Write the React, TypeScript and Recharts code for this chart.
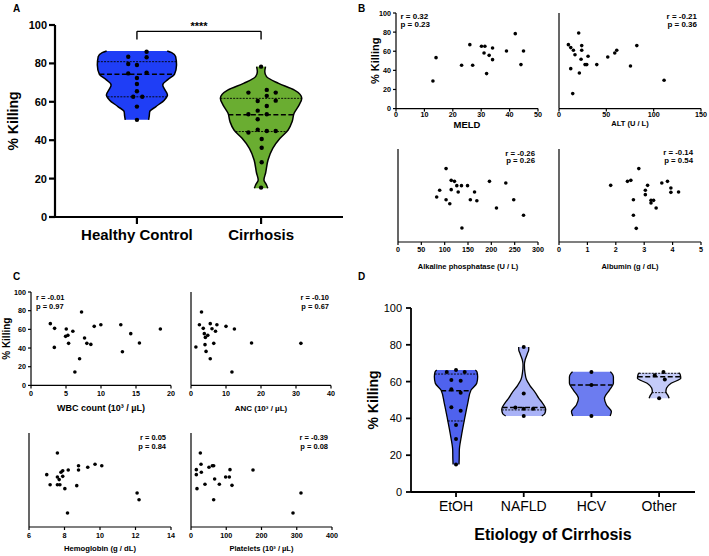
import React from 'react';
import { ComposedChart, ScatterChart, Area, Scatter, XAxis, YAxis, ReferenceLine, ReferenceArea } from 'recharts';

const FONT = '"Liberation Sans", Arial, Helvetica, sans-serif';

// ---------- Panel A: healthy vs cirrhosis ----------
const groupNames = ['Healthy Control', 'Cirrhosis'];
const groupColors = ['#1f3ef6', '#6aad31'];
// violin outline: [% killing, half width in group units]
const healthyOutline = [
  [50.6, 0.094], [52.5, 0.099], [54.9, 0.103], [57.5, 0.153], [61, 0.222], [63.6, 0.246],
  [66.2, 0.226], [68.8, 0.208], [71.4, 0.246], [74.3, 0.302], [79.2, 0.319], [83.5, 0.312],
  [85.6, 0.28], [86.5, 0.244],
];
const cirrhosisOutline = [
  [15, 0.054], [16.7, 0.044], [19.3, 0.023], [22.8, 0.036], [29.7, 0.056], [35.8, 0.094],
  [41, 0.153], [45.3, 0.218], [49.6, 0.25], [54, 0.266], [58.3, 0.306], [61.8, 0.328],
  [66.2, 0.266], [69.6, 0.141], [73.1, 0.044], [75.7, 0.03], [78.3, 0.036],
];
const healthyKilling = [86.1, 83.5, 83.2, 79.7, 79.2, 74.8, 75.2, 72.4, 69.3, 65.5, 62.6, 62.6, 57.5, 50.6];
const healthyJitter = [0.078, -0.07, 0.078, -0.07, 0, -0.07, 0.078, 0, 0, 0, -0.03, 0.043, 0, 0];
const cirrhosisKilling = [78.3, 64.8, 66.2, 64.8, 63.1, 60.4, 60.6, 57.8, 55.4, 53.5, 53.5, 50.9, 45.5, 44, 44.8, 44.8, 40.6, 36.1, 28.5, 15.3];
const cirrhosisJitter = [0, -0.102, 0.046, 0.118, 0.046, -0.027, 0.118, 0.046, -0.027, -0.102, 0.046, -0.027, -0.027, -0.102, 0.046, 0.118, 0.005, 0.005, 0.005, 0];
// [lower quartile, median, upper quartile]
const healthyQuartiles = [62.6, 74.3, 80.9];
const cirrhosisQuartiles = [44.5, 53.3, 61.8];

// ---------- Panel D: etiology ----------
const etiologyNames = ['EtOH', 'NAFLD', 'HCV', 'Other'];
const etiologyColors = ['#4f62ee', '#a9b2f7', '#6c7cf0', '#c4cbf8'];
const etohOutline = [
  [15, 0.044], [18, 0.047], [22.8, 0.049], [30.1, 0.078], [40.9, 0.133], [48.2, 0.173],
  [55.4, 0.222], [59.1, 0.306], [62.7, 0.32], [65.2, 0.31], [66.3, 0.285],
];
const nafldOutline = [
  [41.3, 0.266], [42.5, 0.31], [45, 0.325], [48.2, 0.28], [51, 0.222], [53.9, 0.173],
  [58, 0.089], [61.1, 0.04], [65, 0.018], [69, 0.01], [72, 0.022], [75, 0.052], [77.5, 0.074], [78.8, 0.074],
];
const hcvOutline = [
  [41.3, 0.276], [43.7, 0.295], [47.3, 0.222], [50.9, 0.192], [55.4, 0.266], [59.1, 0.325],
  [62.5, 0.325], [64.6, 0.3], [65.4, 0.28],
];
const otherOutline = [
  [50.9, 0.148], [52.5, 0.13], [54.5, 0.1], [56.5, 0.11], [59.1, 0.177], [61.8, 0.32], [64, 0.31], [64.8, 0.29],
];
const etohKilling = [66.3, 65.2, 65.2, 60.9, 60.5, 55.8, 53.9, 46, 44.2, 36.4, 28.8, 15];
const etohJitter = [0, -0.137, 0.128, -0.069, 0.069, -0.069, 0.069, -0.069, 0.069, 0, 0, 0];
const nafldKilling = [78.8, 53.6, 45.9, 45.2, 45.2, 41.3];
const nafldJitter = [0, 0, -0.123, 0, 0.138, 0];
const hcvKilling = [65.2, 58.2, 41.3];
const hcvJitter = [0, 0, 0];
const otherKilling = [63.4, 65.2, 61.2, 50.9];
const otherJitter = [-0.064, 0.064, 0.084, 0];
const etohQuartiles = [38.6, 55, 64.1];
const nafldQuartiles = [44.6, 45.9, null];
const hcvQuartiles = [null, 58.2, null];
const otherQuartiles = [54, 62.7, 64.5];

// ---------- Panels B & C: correlations ----------
const meldX = [13, 14.1, 23.1, 26, 27, 30.1, 31.3, 31, 31.9, 32.8, 34, 34, 38.9, 42, 44, 44.9];
const meldY = [28.9, 53.3, 45.3, 66.9, 45.3, 65.2, 65.2, 58.2, 36.6, 55.7, 51.2, 63.4, 60.3, 78.4, 46, 60.3];
const altX = [9.9, 12.4, 15.2, 12.4, 14.5, 16.9, 20.8, 21.5, 24, 24, 23.3, 27.5, 29.3, 30.7, 39.9, 51.5, 58.9, 61, 75.5, 82.2, 111];
const altY = [66.9, 63.8, 61, 41.8, 15.7, 56.4, 79.1, 37.3, 65.9, 61, 51.6, 46, 46, 54.7, 46, 54, 58.2, 61, 44.6, 65.9, 29.6];
const alpX = [82.9, 89.3, 103, 103, 111, 114, 114, 121, 126, 129, 136, 137, 149, 155, 164, 169, 196, 211, 231, 248, 269];
const alpY = [48.4, 55.6, 78.9, 45.5, 41.2, 56.3, 66.3, 65.2, 60.6, 53.8, 60.6, 15.1, 60.6, 45.5, 53.8, 44.4, 65.2, 36.6, 63.4, 45.5, 28.7];
const albX = [1.82, 2.41, 2.53, 2.81, 2.62, 2.62, 2.72, 3.04, 3.04, 3.12, 3.24, 3.24, 3.33, 3.42, 3.62, 3.82, 3.94, 3.94, 4.21];
const albY = [60.9, 65.2, 66.3, 78.9, 45.5, 28.7, 14.7, 55.6, 50.9, 60.9, 41.9, 44.8, 44.8, 36.6, 63.4, 65.2, 58.1, 53.4, 53.8];
const wbcX = [2.76, 3.37, 3.33, 5.04, 4.94, 5.27, 5.37, 5.98, 7.22, 6.94, 6.27, 7.65, 7.98, 8.55, 9.03, 9.98, 12.83, 13.06, 14.25, 15.49, 18.48];
const wbcY = [66.1, 61.1, 40.7, 60.4, 52.5, 53.6, 45, 57.9, 78.6, 28.6, 14.3, 50.7, 45, 43.9, 63.2, 65, 65, 36.1, 55.4, 45.4, 60.4];
const ancX = [1.4, 2.4, 3.0, 3.5, 3.8, 4.1, 4.8, 4.0, 4.3, 5.5, 5.5, 6.0, 6.5, 7.0, 7.4, 10, 11.7, 12.4, 17.3, 31.4];
const ancY = [41.1, 65, 78.6, 61.1, 55.4, 51.4, 53.6, 43.6, 36.4, 66.1, 28.6, 60.7, 45, 57.9, 65, 63.2, 14.3, 60.4, 45.4, 45];
const hbX = [7.0, 7.19, 7.6, 7.6, 7.6, 7.74, 7.7, 7.8, 7.9, 7.9, 8.02, 8.21, 8.17, 8.69, 8.79, 8.79, 9.31, 9.72, 10.1, 12.09, 12.2];
const hbY = [55.7, 45, 53.2, 45, 78.7, 45, 50.4, 58.2, 59.9, 53.9, 40.8, 60.6, 14.9, 44, 65.2, 60.6, 63.5, 66.7, 65.2, 36.2, 29];
const pltX = [15.1, 15.1, 17, 26.5, 28.4, 29.3, 39.7, 51, 60.5, 64.3, 64.3, 67.1, 80.4, 98.3, 108.7, 110.6, 116.3, 175.9, 289.4, 312];
const pltY = [61, 55.7, 40.8, 78.7, 66.7, 58.2, 45.4, 63.5, 65.2, 65.2, 29, 51.1, 45.4, 53.2, 53.2, 61, 44.3, 60.6, 14.9, 36.2];

const killingTicks = [0, 20, 40, 60, 80, 100];

// ---------- helpers ----------
type Violin = { pos: number; outline: number[][]; killing: number[]; jitter: number[]; quartiles: (number | null)[]; fill: string };

const widthAt = (outline: number[][], y: number) => {
  for (let i = 0; i < outline.length - 1; i++) {
    const [y0, w0] = outline[i];
    const [y1, w1] = outline[i + 1];
    if (y >= y0 && y <= y1) return w0 + ((w1 - w0) * (y - y0)) / (y1 - y0);
  }
  return outline[outline.length - 1][1];
};

const dot = (r: number) => (props: any) => <circle cx={props.cx} cy={props.cy} r={r} fill="#000" />;

type ViolinChartProps = {
  width: number;
  height: number;
  margin: any;
  violins: Violin[];
  axes: (visible: boolean) => React.ReactNode;
  extras?: React.ReactNode;
  dotR: number;
  strokeW: number;
};

// one layer per violin so every area has its own data rows; axes drawn on the first layer only
const ViolinChart = ({ width, height, margin, violins, axes, extras, dotR, strokeW }: ViolinChartProps) => (
  <div style={{ position: 'relative', width, height }}>
    {violins.map((v, i) => (
      <div key={i} style={{ position: 'absolute', left: 0, top: 0 }}>
        <ComposedChart
          layout="vertical"
          width={width}
          height={height}
          data={v.outline.map(([y, w]) => ({ y, band: [v.pos - w, v.pos + w] }))}
          margin={margin}
        >
          {axes(i === 0)}
          <Area
            dataKey="band"
            type="monotone"
            stroke="#000"
            strokeWidth={strokeW}
            fill={v.fill}
            fillOpacity={1}
            dot={false}
            activeDot={false}
            isAnimationActive={false}
          />
          {v.quartiles.map((q, j) => {
            if (q == null) return null;
            const w = widthAt(v.outline, q);
            return (
              <ReferenceLine
                key={'q' + j}
                segment={[{ x: v.pos - w, y: q }, { x: v.pos + w, y: q }]}
                stroke="#000"
                strokeWidth={j === 1 ? 1.5 : 0.9}
                strokeDasharray={j === 1 ? '5 2.5' : '2 1.2'}
              />
            );
          })}
          <Scatter
            data={v.killing.map((k, n) => ({ x: v.pos + v.jitter[n], y: k }))}
            shape={dot(dotR)}
            isAnimationActive={false}
          />
          {i === violins.length - 1 ? extras : null}
        </ComposedChart>
      </div>
    ))}
  </div>
);

// ---------- correlation panel ----------
type CorrProps = {
  x0: number; x1: number; y0: number; y1: number;
  xs: number[]; ys: number[]; domain: number[]; ticks: number[];
  title: string; titleSize: number; titleGap: number;
  r: string; p: string; corner: 'left' | 'right'; sx: number; sy: number; lh: number; statSize: number;
  yLabels: boolean; yTitle?: string; yTitleSize?: number; yTitleX?: number; tickMargin: number;
};

const Corr = (c: CorrProps) => {
  const yw = 30, xh = 34, mt = 14, mr = 12;
  const left = c.x0 - yw, top = c.y0 - mt;
  const width = c.x1 - c.x0 + yw + mr, height = c.y1 - c.y0 + mt + xh;
  const points = c.xs.map((x, i) => ({ x, y: c.ys[i] }));
  const tickStyle = { fontSize: 7.2, fontWeight: 'bold', fill: '#000', fontFamily: FONT };
  const stats = (props: any) => {
    const vb = props.viewBox;
    const tx = c.corner === 'left' ? vb.x + c.sx : vb.x + vb.width - c.sx;
    const anchor = c.corner === 'left' ? 'start' : 'end';
    return (
      <text x={tx} y={vb.y + c.sy} textAnchor={anchor} fontSize={c.statSize} fontWeight="bold" fontFamily={FONT} fill="#000">
        <tspan x={tx}>{c.r}</tspan>
        <tspan x={tx} dy={c.lh}>{c.p}</tspan>
      </text>
    );
  };
  return (
    <div style={{ position: 'absolute', left, top }}>
      <ScatterChart width={width} height={height} margin={{ top: mt, right: mr, bottom: 0, left: 0 }}>
        <XAxis
          type="number"
          dataKey="x"
          domain={c.domain}
          ticks={c.ticks}
          allowDataOverflow
          height={xh}
          stroke="#000"
          strokeWidth={1.2}
          tickSize={3}
          tickMargin={c.tickMargin}
          tick={tickStyle}
          label={{ value: c.title, position: 'insideBottom', offset: xh - c.titleGap, style: { fontSize: c.titleSize, fontWeight: 'bold', fill: '#000', fontFamily: FONT } }}
        />
        <YAxis
          type="number"
          dataKey="y"
          domain={[0, 100]}
          ticks={killingTicks}
          width={yw}
          stroke="#000"
          strokeWidth={1.2}
          tickSize={3}
          tickMargin={2}
          tick={c.yLabels ? tickStyle : false}
          label={
            c.yTitle
              ? { value: c.yTitle, angle: -90, position: 'insideLeft', offset: c.yTitleX, style: { textAnchor: 'middle', fontSize: c.yTitleSize, fontWeight: 'bold', fill: '#000', fontFamily: FONT } }
              : undefined
          }
        />
        <ReferenceArea x1={c.domain[0]} x2={c.domain[1]} y1={0} y2={100} fill="none" stroke="none" label={stats} />
        <Scatter data={points} shape={dot(1.8)} isAnimationActive={false} />
      </ScatterChart>
    </div>
  );
};

// ---------- main ----------
export default function App() {
  const violinsA: Violin[] = [
    { pos: 1, outline: healthyOutline, killing: healthyKilling, jitter: healthyJitter, quartiles: healthyQuartiles, fill: groupColors[0] },
    { pos: 2, outline: cirrhosisOutline, killing: cirrhosisKilling, jitter: cirrhosisJitter, quartiles: cirrhosisQuartiles, fill: groupColors[1] },
  ];
  const violinsD: Violin[] = [
    { pos: 1, outline: etohOutline, killing: etohKilling, jitter: etohJitter, quartiles: etohQuartiles, fill: etiologyColors[0] },
    { pos: 2, outline: nafldOutline, killing: nafldKilling, jitter: nafldJitter, quartiles: nafldQuartiles, fill: etiologyColors[1] },
    { pos: 3, outline: hcvOutline, killing: hcvKilling, jitter: hcvJitter, quartiles: hcvQuartiles, fill: etiologyColors[2] },
    { pos: 4, outline: otherOutline, killing: otherKilling, jitter: otherJitter, quartiles: otherQuartiles, fill: etiologyColors[3] },
  ];

  const boldTick = (size: number) => ({ fontSize: size, fontWeight: 'bold', fill: '#000', fontFamily: FONT });
  const plainTick = (size: number) => ({ fontSize: size, fill: '#000', fontFamily: FONT });
  const yTitleStyle = { textAnchor: 'middle', fontSize: 14, fontWeight: 'bold', fill: '#000', fontFamily: FONT };

  const axesA = (visible: boolean) => [
    <XAxis
      key="x"
      type="number"
      dataKey="x"
      domain={[0.34, 2.66]}
      ticks={[1, 2]}
      allowDataOverflow
      tickFormatter={(v: number) => groupNames[v - 1]}
      height={38}
      stroke="#000"
      strokeWidth={2.2}
      tickSize={7}
      tickMargin={5}
      axisLine={visible}
      tickLine={visible}
      tick={visible ? boldTick(15) : false}
    />,
    <YAxis
      key="y"
      type="number"
      dataKey="y"
      reversed
      domain={[0, 100]}
      ticks={killingTicks}
      width={55}
      stroke="#000"
      strokeWidth={2.2}
      tickSize={6}
      tickMargin={2}
      axisLine={visible}
      tickLine={visible}
      tick={visible ? boldTick(11) : false}
      label={visible ? { value: '% Killing', angle: -90, position: 'insideLeft', offset: 13, style: yTitleStyle } : undefined}
    />,
  ];

  const axesD = (visible: boolean) => [
    <XAxis
      key="x"
      type="number"
      dataKey="x"
      domain={[0.335, 4.53]}
      ticks={[1, 2, 3, 4]}
      allowDataOverflow
      tickFormatter={(v: number) => etiologyNames[v - 1]}
      height={64}
      stroke="#000"
      strokeWidth={1.8}
      tickSize={5}
      tickMargin={4}
      axisLine={visible}
      tickLine={visible}
      tick={visible ? plainTick(14) : false}
      label={visible ? { value: 'Etiology of Cirrhosis', position: 'insideBottom', offset: 16, style: { fontSize: 16, fontWeight: 'bold', fill: '#000', fontFamily: FONT } } : undefined}
    />,
    <YAxis
      key="y"
      type="number"
      dataKey="y"
      reversed
      domain={[0, 100]}
      ticks={killingTicks}
      width={51}
      stroke="#000"
      strokeWidth={1.8}
      tickSize={5}
      tickMargin={4}
      axisLine={visible}
      tickLine={visible}
      tick={visible ? plainTick(11) : false}
      label={visible ? { value: '% Killing', angle: -90, position: 'insideLeft', offset: 13, style: yTitleStyle } : undefined}
    />,
  ];

  const bracket = [
    <ReferenceLine key="b1" segment={[{ x: 1, y: 92.5 }, { x: 1, y: 96.7 }]} stroke="#000" strokeWidth={1.4} />,
    <ReferenceLine key="b2" segment={[{ x: 2, y: 92.5 }, { x: 2, y: 96.7 }]} stroke="#000" strokeWidth={1.4} />,
    <ReferenceLine
      key="b3"
      segment={[{ x: 1, y: 96.7 }, { x: 2, y: 96.7 }]}
      stroke="#000"
      strokeWidth={1.4}
      label={{ value: '****', position: 'top', offset: 1, style: { fontSize: 11, fontWeight: 'bold', fill: '#000', fontFamily: FONT } }}
    />,
  ];

  return (
    <div style={{ position: 'absolute', left: 0, top: 0, width: 709, height: 556, background: '#fff', fontFamily: FONT }}>
      {/* Panel A */}
      <div style={{ position: 'absolute', left: 0, top: 0 }}>
        <ViolinChart
          width={350}
          height={255}
          margin={{ top: 25, right: 7, bottom: 0, left: 0 }}
          violins={violinsA}
          axes={axesA}
          extras={bracket}
          dotR={2.2}
          strokeW={1.5}
        />
      </div>

      {/* Panel B */}
      <Corr x0={396} x1={538} y0={12.7} y1={108.3} xs={meldX} ys={meldY} domain={[0, 50]} ticks={[0, 10, 20, 30, 40, 50]}
        title="MELD" titleSize={9.5} titleGap={19.5} r="r = 0.32" p="p = 0.23" corner="left" sx={4.5} sy={6.5} lh={7.5} statSize={8}
        yLabels yTitle="% Killing" yTitleSize={11} yTitleX={9} tickMargin={0.5} />
      <Corr x0={559} x1={701} y0={12.7} y1={108.3} xs={altX} ys={altY} domain={[0, 150]} ticks={[0, 50, 100, 150]}
        title="ALT (U / L)" titleSize={7.5} titleGap={17.5} r="r = -0.21" p="p = 0.36" corner="right" sx={4} sy={6.5} lh={7.5} statSize={8}
        yLabels={false} tickMargin={0.5} />
      <Corr x0={398} x1={538} y0={149.3} y1={242.3} xs={alpX} ys={alpY} domain={[0, 300]} ticks={[0, 50, 100, 150, 200, 250, 300]}
        title="Alkaline phosphatase (U / L)" titleSize={7.5} titleGap={26.5} r="r = -0.26" p="p = 0.26" corner="right" sx={3} sy={6.5} lh={7.5} statSize={7.8}
        yLabels={false} tickMargin={1.5} />
      <Corr x0={559} x1={701} y0={149.3} y1={242.3} xs={albX} ys={albY} domain={[0, 5]} ticks={[0, 1, 2, 3, 4, 5]}
        title="Albumin (g / dL)" titleSize={7.5} titleGap={26.5} r="r = -0.14" p="p = 0.54" corner="right" sx={8} sy={6} lh={7.5} statSize={7.8}
        yLabels={false} tickMargin={1.5} />

      {/* Panel C */}
      <Corr x0={31} x1={171} y0={292.3} y1={385.7} xs={wbcX} ys={wbcY} domain={[0, 20]} ticks={[0, 5, 10, 15, 20]}
        title="WBC count (10³ / µL)" titleSize={9} titleGap={26} r="r = -0.01" p="p = 0.97" corner="left" sx={5} sy={8} lh={9.3} statSize={7.5}
        yLabels yTitle="% Killing" yTitleSize={10} yTitleX={5} tickMargin={2} />
      <Corr x0={191} x1={331} y0={292.3} y1={385.7} xs={ancX} ys={ancY} domain={[0, 40]} ticks={[0, 10, 20, 30, 40]}
        title="ANC (10³ / µL)" titleSize={8} titleGap={26} r="r = -0.10" p="p = 0.67" corner="right" sx={2} sy={8} lh={9.3} statSize={7.5}
        yLabels={false} tickMargin={2} />
      <Corr x0={29} x1={171} y0={433.3} y1={527.3} xs={hbX} ys={hbY} domain={[6, 14]} ticks={[6, 8, 10, 12, 14]}
        title="Hemoglobin (g / dL)" titleSize={7.7} titleGap={24} r="r = 0.05" p="p = 0.84" corner="right" sx={5} sy={6.5} lh={9.5} statSize={7.5}
        yLabels={false} tickMargin={2.5} />
      <Corr x0={191} x1={332} y0={433.3} y1={527.3} xs={pltX} ys={pltY} domain={[0, 400]} ticks={[0, 100, 200, 300, 400]}
        title="Platelets (10³ / µL)" titleSize={7.5} titleGap={24} r="r = -0.39" p="p = 0.08" corner="right" sx={4} sy={6.5} lh={9.5} statSize={7.5}
        yLabels={false} tickMargin={2.5} />

      {/* Panel D */}
      <div style={{ position: 'absolute', left: 360, top: 285 }}>
        <ViolinChart
          width={349}
          height={271}
          margin={{ top: 23, right: 14, bottom: 0, left: 0 }}
          violins={violinsD}
          axes={axesD}
          dotR={2}
          strokeW={1.3}
        />
      </div>

      {/* panel letters */}
      <svg width={709} height={556} style={{ position: 'absolute', left: 0, top: 0, pointerEvents: 'none' }}>
        <g fontFamily={FONT} fontWeight="bold" fontSize={10} fill="#000">
          <text x={13} y={11.7}>A</text>
          <text x={358} y={11.7}>B</text>
          <text x={13} y={279.5}>C</text>
          <text x={358} y={279.5}>D</text>
        </g>
      </svg>
    </div>
  );
}
